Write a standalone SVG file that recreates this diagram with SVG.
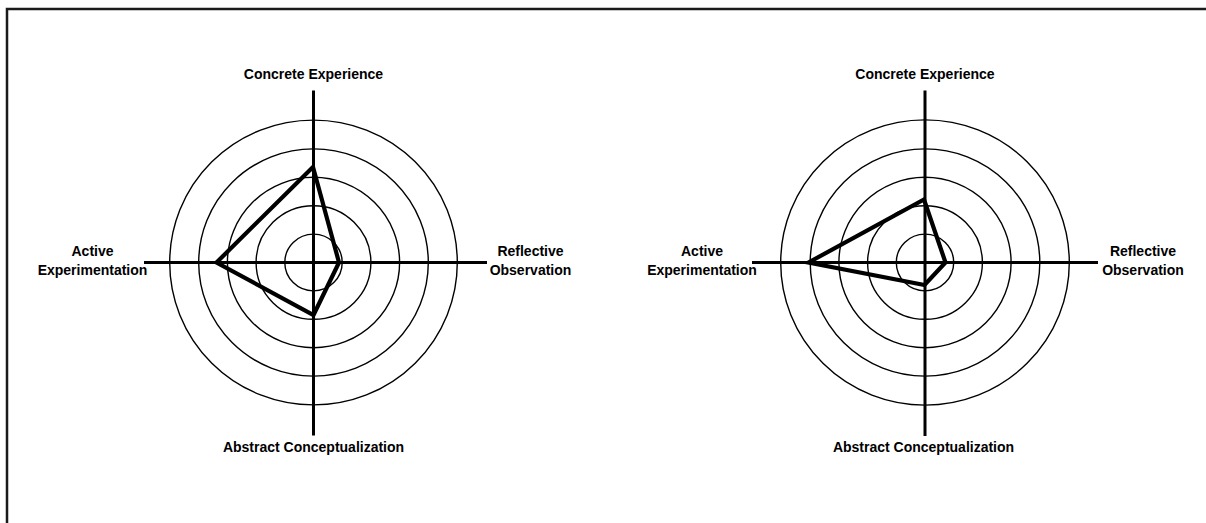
<svg xmlns="http://www.w3.org/2000/svg" width="1206" height="523" viewBox="0 0 1206 523">
<style>
.frame{fill:#fff;stroke:#1a1a1a;stroke-width:2.5}
.ring{fill:none;stroke:#000;stroke-width:1.4}
.axis{stroke:#000;stroke-width:3;fill:none}
.poly{fill:none;stroke:#000;stroke-width:4.2;stroke-linejoin:miter}
.lbl{font-family:"Liberation Sans",Arial,sans-serif;font-weight:bold;font-size:14px;fill:#000;text-anchor:middle}
</style>
<rect width="1206" height="523" fill="#fff"/>
<rect class="frame" x="7" y="9" width="1300" height="600"/>
<g id="chart-left">
  <g id="rings-left">
    <ellipse class="ring" cx="313.5" cy="262.5" rx="28.7" ry="28.4"/>
    <ellipse class="ring" cx="313.5" cy="262.5" rx="57.4" ry="56.8"/>
    <ellipse class="ring" cx="313.5" cy="262.5" rx="86.1" ry="85.2"/>
    <ellipse class="ring" cx="313.5" cy="262.5" rx="114.8" ry="113.6"/>
    <ellipse class="ring" cx="313.5" cy="262.5" rx="143.8" ry="142.4"/>
  </g>
  <g id="axes-left">
    <line class="axis" x1="313.5" y1="90.5" x2="313.5" y2="435.5"/>
    <line class="axis" x1="144" y1="262.5" x2="487" y2="262.5"/>
  </g>
  <polygon id="profile-left" class="poly" points="313,167 339,262.5 313.5,315 216.5,262.5"/>
  <g id="labels-left">
    <text class="lbl" x="313.5" y="79">Concrete Experience</text>
    <text class="lbl" x="313.5" y="452">Abstract Conceptualization</text>
    <text class="lbl" x="92.5" y="256">Active</text>
    <text class="lbl" x="92.5" y="275">Experimentation</text>
    <text class="lbl" x="530.5" y="256">Reflective</text>
    <text class="lbl" x="530.5" y="275">Observation</text>
  </g>
</g>
<g id="chart-right">
  <g id="rings-right">
    <ellipse class="ring" cx="925" cy="262.5" rx="28.7" ry="28.4"/>
    <ellipse class="ring" cx="925" cy="262.5" rx="57.4" ry="56.8"/>
    <ellipse class="ring" cx="925" cy="262.5" rx="86.1" ry="85.2"/>
    <ellipse class="ring" cx="925" cy="262.5" rx="114.8" ry="113.6"/>
    <ellipse class="ring" cx="925" cy="262.5" rx="144.3" ry="142.6"/>
  </g>
  <g id="axes-right">
    <line class="axis" x1="925" y1="90.5" x2="925" y2="436"/>
    <line class="axis" x1="752" y1="262.5" x2="1098" y2="262.5"/>
  </g>
  <polygon id="profile-right" class="poly" points="924,199.5 945.5,262.5 924.5,285 808.5,262.5"/>
  <g id="labels-right">
    <text class="lbl" x="925" y="79">Concrete Experience</text>
    <text class="lbl" x="923.5" y="452">Abstract Conceptualization</text>
    <text class="lbl" x="702" y="256">Active</text>
    <text class="lbl" x="702" y="275">Experimentation</text>
    <text class="lbl" x="1143" y="256">Reflective</text>
    <text class="lbl" x="1143" y="275">Observation</text>
  </g>
</g>
</svg>
